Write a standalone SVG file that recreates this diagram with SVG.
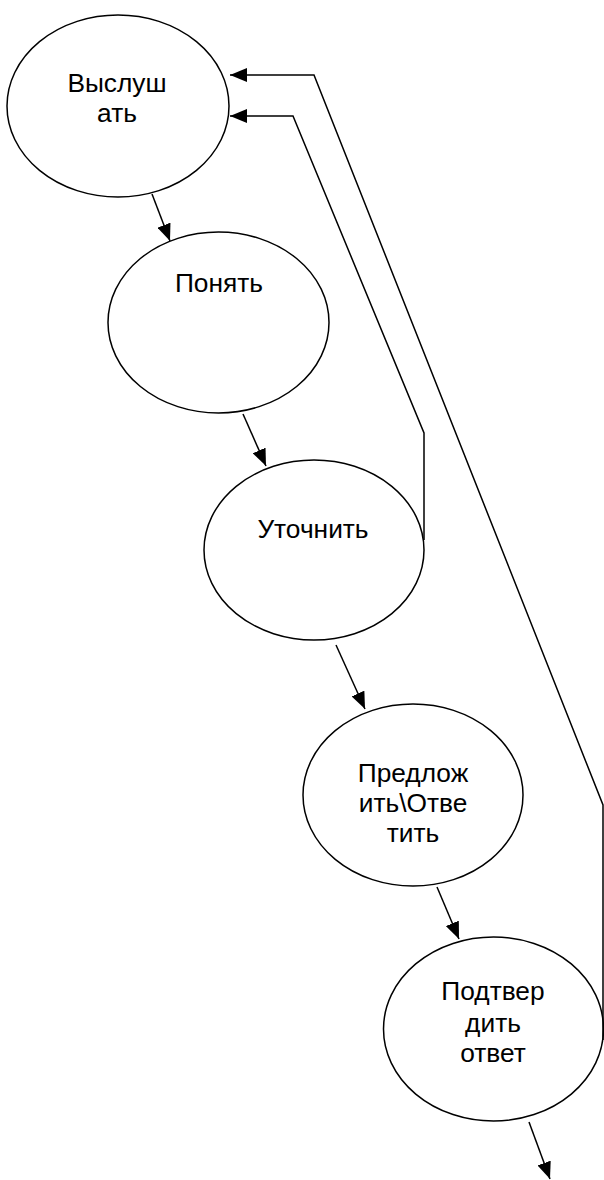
<svg xmlns="http://www.w3.org/2000/svg" width="604" height="1180" viewBox="0 0 604 1180">
<style>
.n{fill:#fff;stroke:#000;stroke-width:1.5}
.t{font-family:"Liberation Sans",Arial,sans-serif;font-size:26.3px;fill:#000;text-anchor:middle}
.c{fill:none;stroke:#000;stroke-width:1.5}
</style>
<defs>
<marker id="a" markerUnits="userSpaceOnUse" markerWidth="18" markerHeight="14" refX="17" refY="7" orient="auto">
<path d="M0,0 L17,7 L0,14 z" fill="#000"/>
</marker>
</defs>
<rect width="604" height="1180" fill="#fff"/>
<g id="n1"><ellipse class="n" cx="118" cy="106" rx="111" ry="91"/>
<text class="t" x="117" y="92">Выслуш</text><text class="t" x="117" y="122">ать</text></g>
<g id="n2"><ellipse class="n" cx="218.5" cy="322.5" rx="110.5" ry="90.5"/>
<text class="t" x="219" y="292">Понять</text></g>
<g id="n3"><ellipse class="n" cx="314" cy="550" rx="110" ry="90"/>
<text class="t" x="313" y="538">Уточнить</text></g>
<g id="n4"><ellipse class="n" cx="413" cy="795" rx="110" ry="91"/>
<text class="t" x="413" y="782">Предлож</text><text class="t" x="413" y="812">ить\Отве</text><text class="t" x="413" y="842">тить</text></g>
<g id="n5"><ellipse class="n" cx="493.5" cy="1029" rx="110" ry="92"/>
<text class="t" x="493" y="1000">Подтвер</text><text class="t" x="493" y="1032">дить</text><text class="t" x="493" y="1062">ответ</text></g>
<g id="connectors">
<line class="c" x1="152" y1="194" x2="170" y2="241" marker-end="url(#a)"/>
<line class="c" x1="243" y1="414" x2="266" y2="466" marker-end="url(#a)"/>
<line class="c" x1="336" y1="645" x2="365" y2="709" marker-end="url(#a)"/>
<line class="c" x1="437" y1="887" x2="459" y2="939" marker-end="url(#a)"/>
<line class="c" x1="529" y1="1122" x2="550" y2="1179" marker-end="url(#a)"/>
<polyline class="c" points="424,540 424,433 293,116 230,116" marker-end="url(#a)"/>
<polyline class="c" points="603,1040 603,805 314,75 230,75" marker-end="url(#a)"/>
</g>
</svg>
